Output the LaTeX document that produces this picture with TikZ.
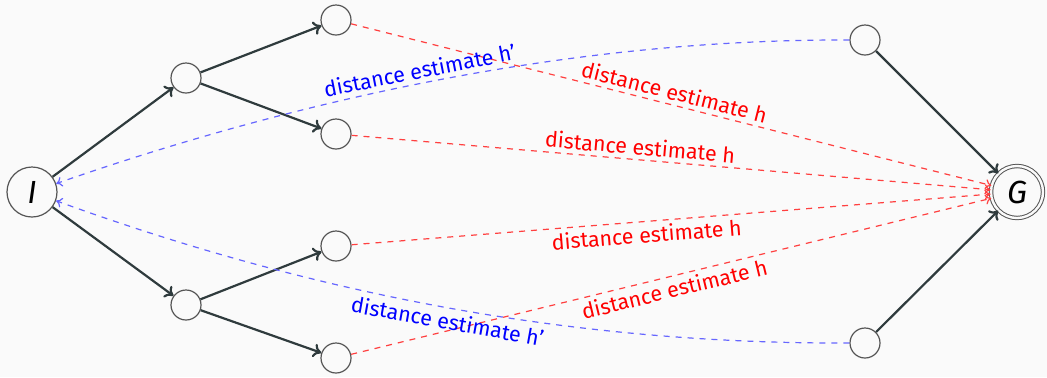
\documentclass[tikz,border=0pt]{standalone}
\usepackage{fontspec}
\setmainfont{Fira Sans}
\usetikzlibrary{arrows.meta}
\definecolor{bgc}{HTML}{FAFAFA}
\definecolor{edge}{HTML}{2F3B3D}
\definecolor{ring}{HTML}{555555}
\tikzset{
  state/.style={circle, draw=ring, line width=0.6pt, fill=bgc, inner sep=0pt, minimum size=15pt},
  big/.style={circle, draw=ring, line width=0.6pt, fill=bgc, inner sep=0pt, minimum size=25pt, font=\fontsize{16}{18}\selectfont\itshape},
  goal/.style={circle, draw=ring, double=bgc, double distance=1.2pt, line width=0.5pt, fill=bgc, inner sep=0pt, minimum size=26pt, font=\fontsize{16}{18}\selectfont\itshape},
  tree/.style={draw=edge, line width=1.1pt, -{To[length=4pt,width=7pt]}},
  hred/.style={draw=red!75, dashed, line width=0.6pt, -{To[length=3pt,width=5pt]}},
  hblue/.style={draw=blue!60, dashed, line width=0.6pt, -{To[length=3pt,width=5pt]}},
  lred/.style={text=red, font=\fontsize{10.7}{13}\selectfont, sloped, inner sep=2pt},
  lblue/.style={text=blue, font=\fontsize{10.7}{13}\selectfont, sloped, inner sep=2pt}
}
\begin{document}
\begin{tikzpicture}[x=0.5pt,y=-0.5pt]
\fill[bgc] (0,0) rectangle (1047,377);
\useasboundingbox (0,0) rectangle (1047,377);
\node[big] (I) at (32,192) {I};
\node[state] (A) at (186,78) {};
\node[state] (B) at (186,305) {};
\node[state] (C) at (336,20) {};
\node[state] (D) at (336,134) {};
\node[state] (E) at (336,246) {};
\node[state] (F) at (336,358) {};
\node[state] (R1) at (865,40) {};
\node[state] (R2) at (865,343) {};
\node[goal] (G) at (1017,192) {G};
\draw[tree] (I) -- (A);
\draw[tree] (I) -- (B);
\draw[tree] (A) -- (C);
\draw[tree] (A) -- (D);
\draw[tree] (B) -- (E);
\draw[tree] (B) -- (F);
\draw[tree] (R1) -- (G);
\draw[tree] (R2) -- (G);
\draw[hred] (C) -- node[lred, midway, above] {distance estimate h} (G);
\draw[hred] (D) -- node[lred, pos=0.45, above] {distance estimate h} (G);
\draw[hred] (E) -- node[lred, pos=0.46, below] {distance estimate h} (G);
\draw[hred] (F) -- node[lred, midway, below] {distance estimate h} (G);
\draw[hblue] (R1.west) .. controls (610,39) and (342,84) .. node[lblue, pos=0.56, above] {distance estimate h'} (I);
\draw[hblue] (R2.west) .. controls (600,344) and (340,304) .. node[lblue, pos=0.52, below] {distance estimate h'} (I);
\end{tikzpicture}
\end{document}
